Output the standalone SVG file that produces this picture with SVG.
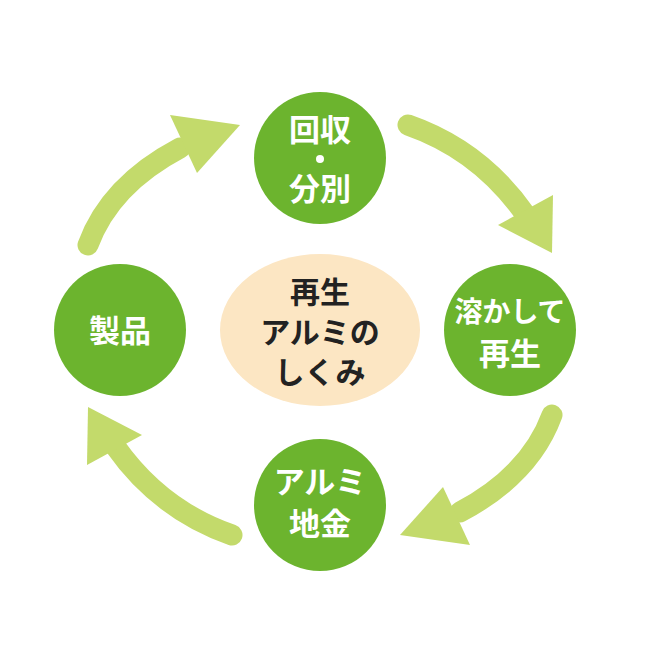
<svg xmlns="http://www.w3.org/2000/svg" width="650" height="650" viewBox="0 0 650 650">
<style>
.n{fill:#6cb42e}
.t{font-family:"Noto Sans CJK JP",sans-serif;font-weight:bold;font-size:31px;fill:#fff;text-anchor:middle}
.c{font-family:"Noto Sans CJK JP",sans-serif;font-weight:bold;font-size:30px;fill:#222;text-anchor:middle}
.a{fill:none;stroke:#c3da6b;stroke-width:21;stroke-linecap:round}
.h{fill:#c3da6b}
</style>
<rect width="650" height="650" fill="#fff"/>
<g id="connectors">
<path class="a" d="M408,125 Q480,150 525,214"/><polygon class="h" points="498,225 553,195 552,253"/>
<path class="a" d="M552,415 Q530,475 460,512"/><polygon class="h" points="443,487 470,545 400,535"/>
<path class="a" d="M232,535 Q160,510 115,446"/><polygon class="h" points="142,435 87,465 88,407"/>
<path class="a" d="M88,245 Q110,185 180,148"/><polygon class="h" points="197,173 170,115 240,125"/>
</g>
<g id="center"><ellipse cx="320" cy="330" rx="100" ry="76" fill="#fce6c3"/>
<text class="c" x="320" y="303">再生</text><text class="c" x="320" y="343">アルミの</text><text class="c" x="320" y="383">しくみ</text></g>
<g id="top"><circle class="n" cx="320" cy="158" r="66"/><text class="t" x="320" y="141">回収</text><circle cx="320" cy="159" r="4" fill="#fff"/><text class="t" x="320" y="200">分別</text></g>
<g id="right"><circle class="n" cx="510" cy="330" r="66"/><text class="t" x="510" y="322" style="font-size:28px">溶かして</text><text class="t" x="510" y="365">再生</text></g>
<g id="bottom"><circle class="n" cx="320" cy="505" r="66"/><text class="t" x="320" y="493">アルミ</text><text class="t" x="320" y="535">地金</text></g>
<g id="left"><circle class="n" cx="120" cy="330" r="66"/><text class="t" x="120" y="342">製品</text></g>
</svg>
